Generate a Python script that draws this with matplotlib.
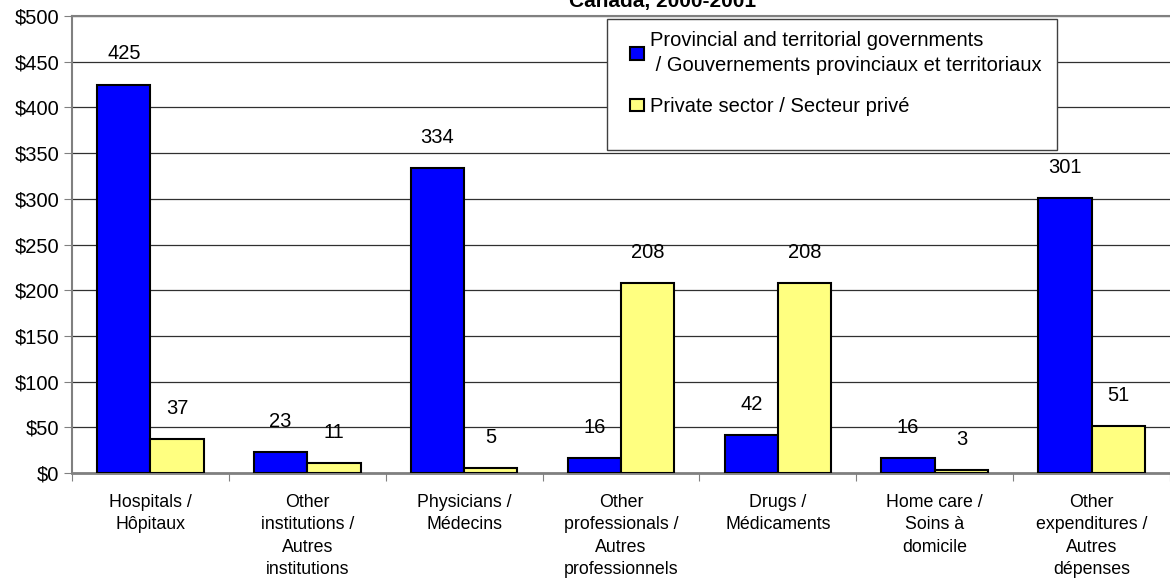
import matplotlib.pyplot as plt
import numpy as np

# categories and values (per capita spending, $)
categories = [
    "Hospitals /\nHôpitaux",
    "Other\ninstitutions /\nAutres\ninstitutions",
    "Physicians /\nMédecins",
    "Other\nprofessionals /\nAutres\nprofessionnels",
    "Drugs /\nMédicaments",
    "Home care /\nSoins à\ndomicile",
    "Other\nexpenditures /\nAutres\ndépenses",
]
government = [425, 23, 334, 16, 42, 16, 301]
private = [37, 11, 5, 208, 208, 3, 51]
series_names = [
    "Provincial and territorial governments\n / Gouvernements provinciaux et territoriaux",
    "Private sector / Secteur privé",
]
yticks = [0, 50, 100, 150, 200, 250, 300, 350, 400, 450, 500]

plt.rcParams['font.family'] = ['Liberation Sans', 'DejaVu Sans']

W, H = 1170, 582
fig = plt.figure(figsize=(W / 100, H / 100), dpi=100)
ax = fig.add_axes([72 / W, 109 / H, 1 - 72 / W, (473 - 16) / H])

x = np.arange(len(categories))
w = 0.34
b1 = ax.bar(x - w / 2, government, w, color='#0000FF', edgecolor='black', linewidth=1.5, zorder=3)
b2 = ax.bar(x + w / 2, private, w, color='#FFFF80', edgecolor='black', linewidth=1.5, zorder=3)

for bars, vals in [(b1, government), (b2, private)]:
    for r, v in zip(bars, vals):
        ax.annotate(str(v), (r.get_x() + r.get_width() / 2, v), xytext=(0, 22),
                    textcoords='offset points', ha='center', va='center', fontsize=14.5)

ax.set_xlim(-0.5, 6.5)
ax.set_ylim(0, 500)
ax.set_yticks(yticks)
ax.set_yticklabels(["$%d" % t for t in yticks], fontsize=14.5)
ax.yaxis.grid(True, color='#303030', linewidth=0.9, zorder=0)

# category ticks between groups, labels centred
ax.set_xticks(np.arange(-0.5, 6.6, 1.0))
ax.set_xticklabels([])
ax.set_xticks(x, minor=True)
ax.set_xticklabels(categories, minor=True, fontsize=12.8, linespacing=1.42, va='top')
ax.tick_params(axis='x', which='minor', length=0, pad=15)
ax.tick_params(axis='x', which='major', length=6, color='#808080')
ax.tick_params(axis='y', length=6, color='#808080', pad=3)

ax.spines['right'].set_visible(False)
ax.spines['left'].set_color('#808080')
ax.spines['left'].set_linewidth(1.5)
ax.spines['bottom'].set_color('#808080')
ax.spines['bottom'].set_linewidth(2)
ax.spines['top'].set_color('#808080')
ax.spines['top'].set_linewidth(1.5)

fig.text(663 / W, 1 - 7 / H, "Canada, 2000-2001", ha='center', va='baseline',
         fontsize=15, fontweight='bold')

# legend box (Excel style, fixed size)
box = plt.Rectangle((607 / W, 1 - 150 / H), (1057 - 607) / W, (150 - 19) / H,
                    transform=fig.transFigure, facecolor='white', edgecolor='#404040',
                    linewidth=1.0, zorder=4, clip_on=False)
ax.add_artist(box)
leg = ax.legend([b1, b2], series_names, loc='upper left',
                bbox_to_anchor=(630 / W, 1 - 31 / H), bbox_transform=fig.transFigure,
                fontsize=14.5, frameon=False,
                handlelength=0.7, handleheight=0.6, handletextpad=0.3,
                labelspacing=1.1, borderpad=0, borderaxespad=0)
for t in leg.get_texts():
    t.set_linespacing(1.4)
leg.set_zorder(5)

plt.savefig("out.png", dpi=100)
